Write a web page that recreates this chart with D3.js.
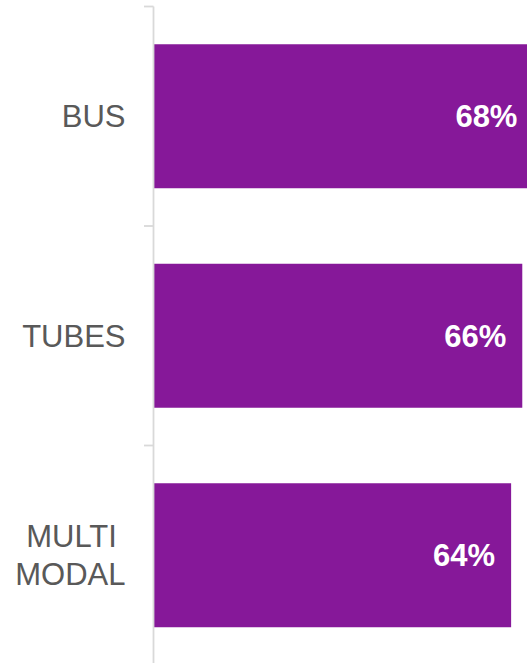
<!DOCTYPE html>
<html>
<head>
<meta charset="utf-8">
<script src="https://cdn.jsdelivr.net/npm/d3@7"></script>
<style>
  html, body { margin: 0; padding: 0; background: #ffffff; }
  svg { display: block; }
  .cat-label { white-space: pre; }
</style>
</head>
<body>
<svg id="chart" width="527" height="663"></svg>
<script>
// Share of journeys by mode
const categories = ["BUS", "TUBES", "MULTI MODAL"];
const categoryLines = [["BUS"], ["TUBES"], ["MULTI ", "MODAL"]];
const values = [68, 66, 64];
const valueLabels = ["68%", "66%", "64%"];

const width = 527, height = 663;
const barColor = "#861899";
const textColor = "#595959";
const axisColor = "#d9d9d9";

const svg = d3.select("#chart");

const x = d3.scaleLinear().domain([0, 100]).range([154, 712]);
const y = d3.scaleBand()
  .domain(categories)
  .range([6.5, 665])
  .paddingInner(0.344)
  .paddingOuter(0.172);

const halfGap = y.step() * y.paddingInner() / 2;

// Bars
svg.append("g").selectAll("rect")
  .data(categories)
  .join("rect")
  .attr("x", x(0))
  .attr("y", d => y(d))
  .attr("width", (d, i) => x(values[i]) - x(0))
  .attr("height", y.bandwidth())
  .attr("fill", barColor);

// Category axis line and band-boundary ticks
const boundaries = categories.map(c => y(c) - halfGap)
  .concat([y(categories[categories.length - 1]) + y.bandwidth() + halfGap]);
const axis = svg.append("g");
axis.append("line")
  .attr("x1", 153.5).attr("x2", 153.5)
  .attr("y1", boundaries[0]).attr("y2", boundaries[boundaries.length - 1])
  .attr("stroke", axisColor).attr("stroke-width", 1.8);
axis.selectAll("line.tick")
  .data(boundaries)
  .join("line")
  .attr("class", "tick")
  .attr("x1", 144).attr("x2", 153.5)
  .attr("y1", d => d).attr("y2", d => d)
  .attr("stroke", axisColor).attr("stroke-width", 1.8);

// Category labels
const lineHeight = 38;
svg.append("g").selectAll("text")
  .data(categories)
  .join("text")
  .attr("class", "cat-label")
  .attr("x", 125.5)
  .attr("text-anchor", "end")
  .attr("font-family", "'Liberation Sans', Arial, sans-serif")
  .attr("font-size", 31)
  .attr("fill", textColor)
  .each(function (d, i) {
    const lines = categoryLines[i];
    const cy = y(d) + y.bandwidth() / 2;
    const first = cy - (lines.length - 1) * lineHeight / 2;
    d3.select(this).selectAll("tspan")
      .data(lines)
      .join("tspan")
      .attr("x", 125.5)
      .attr("y", (l, j) => first + j * lineHeight)
      .attr("dy", "0.35em")
      .text(l => l);
  });

// Value labels inside bar ends
svg.append("g").selectAll("text")
  .data(categories)
  .join("text")
  .attr("x", (d, i) => x(values[i]) - 16)
  .attr("y", d => y(d) + y.bandwidth() / 2)
  .attr("dy", "0.35em")
  .attr("text-anchor", "end")
  .attr("font-family", "'Liberation Sans', Arial, sans-serif")
  .attr("font-size", 31)
  .attr("font-weight", "bold")
  .attr("fill", "#ffffff")
  .text((d, i) => valueLabels[i]);
</script>
</body>
</html>
